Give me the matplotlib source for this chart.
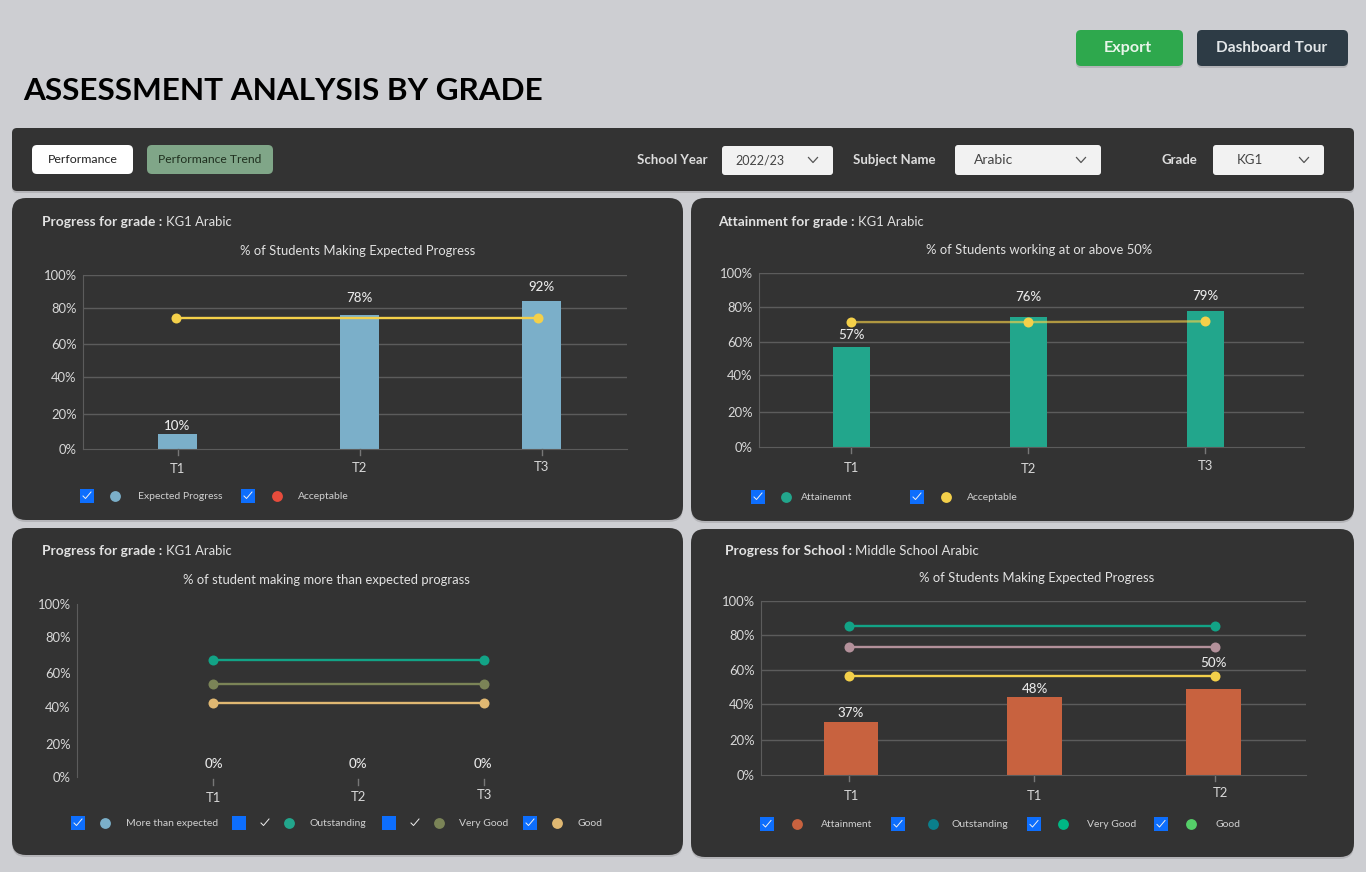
import matplotlib
matplotlib.use('Agg')
import matplotlib.pyplot as plt
from matplotlib.patches import FancyBboxPatch, Rectangle

plt.rcParams['font.family'] = ['Lato', 'DejaVu Sans']

W, H = 1366, 872
BG = '#cdced2'
PANEL = '#333333'
GRID = '#5c5c5c'
TXT = '#e2e2e2'
BLUE = '#0d6efd'

# chart values
terms_a = ['T1', 'T2', 'T3']
terms_d = ['T1', 'T1', 'T2']
pct_labels = ['0%', '20%', '40%', '60%', '80%', '100%']

expected_progress = [8.6, 77.0, 85.1]
expected_labels = ['10%', '78%', '92%']
expected_acceptable = [75.2, None, 75.2]

attainment = [57.5, 74.7, 78.2]
attainment_labels = ['57%', '76%', '79%']
attainment_acceptable = [71.8, 71.8, 72.2]

more_zero = [0, 0, 0]
more_labels = ['0%', '0%', '0%']
more_outstanding = [67.6, None, 67.6]
more_very_good = [53.7, None, 53.7]
more_good = [42.7, None, 42.7]

school_attainment = [30.5, 44.8, 49.4]
school_labels = ['37%', '48%', '50%']
school_outstanding = [85.6, None, 85.6]
school_very_good = [73.6, None, 73.6]
school_good = [56.9, None, 56.9]

fig = plt.figure(figsize=(W / 100, H / 100), dpi=100, facecolor=BG)
ui = fig.add_axes([0, 0, 1, 1])
ui.set_xlim(0, W)
ui.set_ylim(H, 0)
ui.axis('off')


def box(x0, y0, x1, y1, color, r=5, shadow=False):
    if shadow:
        ui.add_patch(FancyBboxPatch((x0 + r, y0 + r + 2), x1 - x0 - 2 * r, y1 - y0 - 2 * r,
                                    boxstyle='round,pad=%d' % r, fc='#000000', ec='none', alpha=0.12))
    ui.add_patch(FancyBboxPatch((x0 + r, y0 + r), x1 - x0 - 2 * r, y1 - y0 - 2 * r,
                                boxstyle='round,pad=%d' % r, fc=color, ec='none'))


def label(x, y, s, size=9, color=TXT, weight='normal', ha='left'):
    ui.text(x, y, s, fontsize=size, color=color, fontweight=weight, ha=ha, va='center')


def chevron(x, y):
    ui.plot([x - 4.5, x, x + 4.5], [y - 2.5, y + 2.5, y - 2.5], color='#555555', lw=0.9)


def legend(y, items):
    for bx, dx, tx, color, name, tick_x in items:
        ui.add_patch(Rectangle((bx, y - 7), 14, 14, fc=BLUE, ec='none'))
        cx = tick_x if tick_x else bx + 7
        ui.plot([cx - 4, cx - 1.5, cx + 4], [y + 0.5, y + 3, y - 3.5],
                color='#f0f0f0', lw=0.7)
        ui.plot([dx], [y], 'o', ms=7.8, color=color, mec='none')
        label(tx, y + 0.5, name, size=7.5, color='#d0d0d0')


def chart(px, ylevels, terms, pos, xlab_y, bars=None, bar_pos=None, bar_color=None, bar_w=0.2,
          labels=None, lab_off=None, lab_dx=(0, 0, 0), xlab_dx=(0, 0, 0), lines=(), line_pos=None,
          grid=True):
    x0, x1, ytop, ybot, first, last = px
    ax = fig.add_axes([x0 / W, 1 - ybot / H, (x1 - x0) / W, (ybot - ytop) / H])
    ax.patch.set_alpha(0)
    step = (last - first) / 2
    ax.set_xlim((x0 - first) / step, (x1 - first) / step)
    ax.set_ylim(0, 100)
    for s in ('top', 'right'):
        ax.spines[s].set_visible(False)
    for s in ('left', 'bottom'):
        ax.spines[s].set_color(GRID)
    ax.set_yticks(ylevels, pct_labels)
    ax.tick_params(axis='y', length=0, pad=4.5, labelsize=9.4, labelcolor='#d8d8d8')
    ax.set_xticks([])
    if grid:
        for v in ylevels[1:]:
            ax.axhline(v, color=GRID, lw=1, zorder=1)
    else:
        ax.spines['bottom'].set_visible(False)
    bar_pos = bar_pos or pos
    line_pos = line_pos or pos
    if bars is not None:
        ax.bar(bar_pos, bars, width=bar_w, color=bar_color, zorder=2)
    for vals, color, alpha in lines:
        xs = [p for p, v in zip(line_pos, vals) if v is not None]
        ys = [v for v in vals if v is not None]
        ax.plot(xs, ys, color=color, lw=1.7, alpha=alpha, zorder=3)
        ax.plot(xs, ys, 'o', color=color, ms=7.2, mec='none', zorder=4)
    tr = ax.get_xaxis_transform()
    for i, p in enumerate(pos):
        gap = 2 if not grid else 0
        ax.plot([p, p], [-gap / (ybot - ytop), -(gap + 6) / (ybot - ytop)], transform=tr,
                color='#777777', lw=1, clip_on=False)
        ax.annotate(terms[i], (p, 0), xycoords=tr,
                    xytext=(xlab_dx[i] * 0.72, -xlab_y[i] * 0.72),
                    textcoords='offset points', ha='center', va='center',
                    fontsize=9.4, color='#d8d8d8', annotation_clip=False)
        if labels:
            base = bars[i] if bars is not None else 0
            ax.annotate(labels[i], (bar_pos[i], base), xytext=(lab_dx[i] * 0.72, lab_off[i] * 0.72),
                        textcoords='offset points', ha='center', va='center',
                        fontsize=9.6, color='#e8e8e8', fontweight='medium', zorder=5)
    return ax


# page header
label(23, 91, 'ASSESSMENT ANALYSIS BY GRADE', size=22.65, color='black', weight='bold')
box(1076, 30, 1183, 66, '#2ea84d', shadow=True)
label(1127.5, 48, 'Export', size=11.6, color='#e8f5ea', weight='bold', ha='center')
box(1197, 30, 1348, 66, '#2d3b45', shadow=True)
label(1272, 48, 'Dashboard Tour', size=11.1, color='#e2e6e8', weight='bold', ha='center')

# filter bar
box(12, 128, 1354, 191, PANEL, shadow=True)
box(32, 145, 133, 174, 'white')
label(82.5, 159.5, 'Performance', size=8.9, color='#222222', ha='center')
box(147, 145, 273, 174, '#80a688')
label(210, 159.5, 'Performance Trend', size=8.7, color='#20301f', ha='center')
label(637, 159.5, 'School Year', size=9.5, color='#dddddd', weight='bold')
box(722, 146, 833, 175, '#f2f2f2', r=3)
label(735, 160.5, '2022/23', size=9, color='#444444')
chevron(813, 160)
label(853, 160.5, 'Subject Name', size=9.5, color='#dddddd', weight='bold')
box(955, 145, 1101, 175, '#f2f2f2', r=3)
label(974, 159.5, 'Arabic', size=10, color='#444444')
chevron(1081, 160)
label(1161, 160.5, 'Grade', size=9.5, color='#dddddd', weight='bold')
box(1213, 145, 1324, 175, '#f2f2f2', r=3)
label(1237, 159.5, 'KG1', size=9.5, color='#444444')
chevron(1304, 160)

# cards
box(12, 198, 683, 520, PANEL, r=14, shadow=True)
box(691, 198, 1354, 521, PANEL, r=14, shadow=True)
box(12, 528, 683, 855, PANEL, r=14, shadow=True)
box(691, 529, 1354, 857, PANEL, r=14, shadow=True)

label(42, 221.5, 'Progress for grade :', size=9.9, weight='bold')
label(166, 221.5, 'KG1 Arabic', size=9.4)
label(358, 250.5, '% of Students Making Expected Progress', size=9.4, ha='center')
label(718, 221.5, 'Attainment for grade :', size=9.9, weight='bold')
label(858, 221.5, 'KG1 Arabic', size=9.4)
label(1039, 249.5, '% of Students working at or above 50%', size=9.4, ha='center')
label(42, 550.5, 'Progress for grade :', size=9.9, weight='bold')
label(166, 550.5, 'KG1 Arabic', size=9.4)
label(326, 579.5, '% of student making more than expected prograss', size=9.4, ha='center')
label(725, 550.5, 'Progress for School :', size=9.9, weight='bold')
label(855, 550.5, 'Middle School Arabic', size=9.5)
label(1037, 577.5, '% of Students Making Expected Progress', size=9.4, ha='center')

chart((83, 627, 275, 449, 177.5, 541.5), [0, 20.1, 41.4, 60.3, 81, 100], terms_a, [0, 1, 2],
      [20, 19, 18], bars=expected_progress, bar_color='#7bafc9', bar_w=0.214,
      labels=expected_labels, lab_off=[8, 17, 14],
      lines=[(expected_acceptable, '#f4d04a', 1)], line_pos=[-0.01, 1, 1.98])

chart((759, 1304, 273, 447, 851.5, 1205.5), [0, 20.1, 41.4, 60.3, 80.5, 100], terms_a, [0, 1, 2],
      [21, 22, 19], bars=attainment, bar_color='#22a68c', bar_w=0.209,
      labels=attainment_labels, lab_off=[12, 20, 15],
      lines=[(attainment_acceptable, '#f4d04a', 0.65)])

ax3 = chart((77, 627, 604, 777, 213, 484), [0, 19.1, 40.5, 60.1, 80.9, 100], terms_a, [0, 1.07, 2],
            [21, 20, 18], labels=more_labels, bars=more_zero, lab_off=[13, 13, 13],
            lab_dx=[1, 0, -1], grid=False,
            lines=[(more_outstanding, '#12a386', 1), (more_very_good, '#7b8457', 1), (more_good, '#e0b872', 1)])

chart((761, 1306, 601, 775, 849, 1215), [0, 20.1, 40.8, 60.3, 80.5, 100], terms_d, [0, 1.011, 2],
      [21, 21, 18], bars=school_attainment, bar_pos=[0.011, 1.014, 1.99], bar_color='#c8623f',
      bar_w=0.3, labels=school_labels, lab_off=[9, 8, 26], xlab_dx=[2, 0, 5],
      lines=[(school_outstanding, '#12a386', 1), (school_very_good, '#b4919b', 1), (school_good, '#f4d04a', 1)],
      line_pos=[0, 1, 2])

legend(495.5, [(80, 115, 138, '#7bafc9', 'Expected Progress', None),
               (241, 277, 298, '#e74c3c', 'Acceptable', None)])
legend(496.5, [(751, 786, 801, '#22a68c', 'Attainemnt', None),
               (910, 946, 967, '#f4d04a', 'Acceptable', None)])
legend(822.5, [(71, 105, 126, '#7bafc9', 'More than expected', None),
               (232, 289, 310, '#22a68c', 'Outstanding', 265),
               (382, 439, 459, '#7b8457', 'Very Good', 415),
               (523, 557, 578, '#e0b872', 'Good', None)])
legend(824, [(760, 797, 821, '#c8623f', 'Attainment', None),
             (891, 933, 951, '#0b7f8c', 'Outstanding', None),
             (1027, 1063, 1087, '#00b884', 'Very Good', None),
             (1154, 1191, 1215, '#55cf69', 'Good', None)])

fig.savefig('out.png', dpi=100, facecolor=BG)
